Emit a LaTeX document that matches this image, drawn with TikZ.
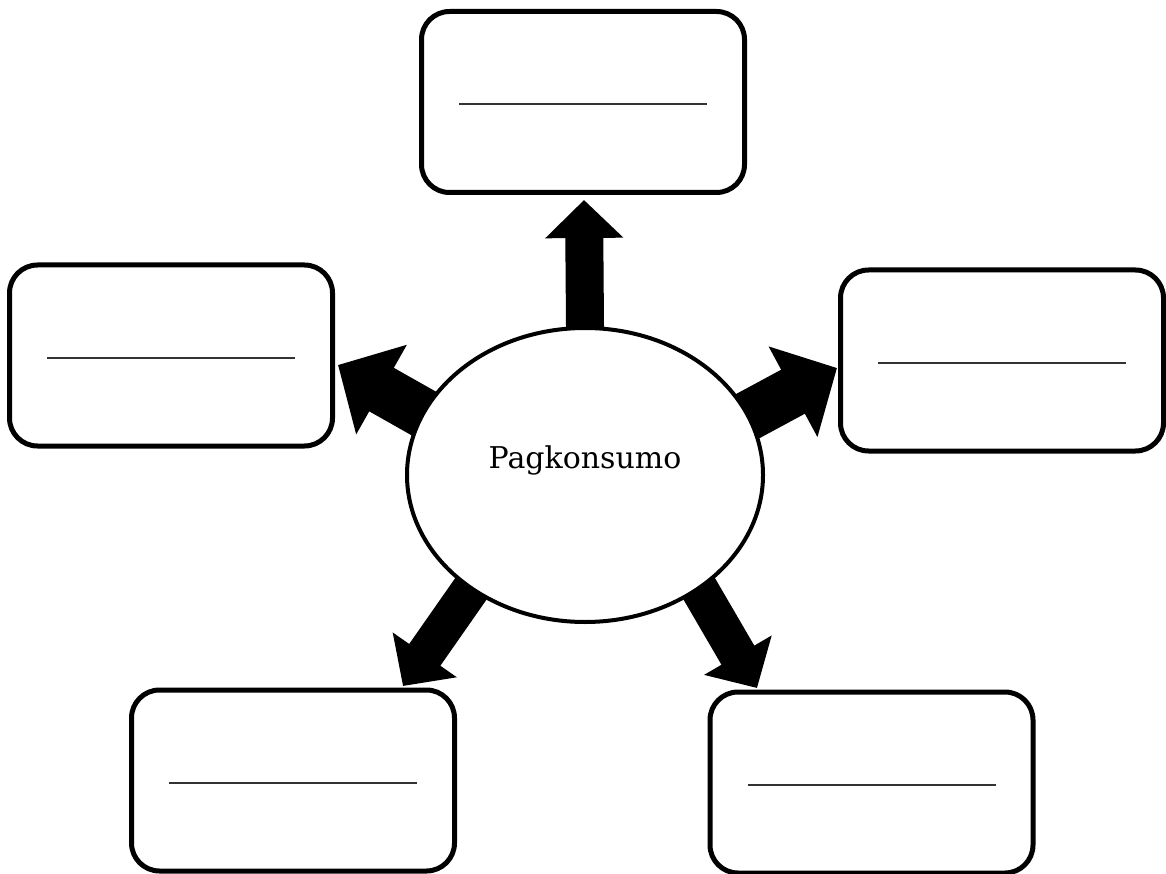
\documentclass[tikz,border=0pt]{standalone}
\usepackage{fontspec}
\setmainfont{DejaVu Serif}
\usetikzlibrary{arrows.meta, shapes.geometric, backgrounds}

\newcommand{\ligneblanche}{{\color{black!80}\rule[-3pt]{248pt}{1.5pt}}}

\begin{document}
\begin{tikzpicture}[x=1pt, y=-1pt,
  boite/.style={rectangle, rounded corners=28pt, draw=black, line width=5pt,
    minimum width=323pt, minimum height=181pt, inner sep=0pt,
    text height=0pt, text depth=0pt},
  centre/.style={ellipse, draw=black, line width=4pt, fill=white,
    minimum width=356pt, minimum height=294pt},
  fleche/.style={line width=#1, -{Triangle[length=0pt 1, width=0pt 2]}}]

\useasboundingbox (0,0) rectangle (1166,874);

% L'ellipse du centre
\node[centre] (P) at (585,475) {};
\node[font=\fontsize{30}{36}\selectfont, anchor=base] (Ptxt) at ([yshift=7pt]P.center) {Pagkonsumo};

% Les cases vides
\foreach \b/\x/\y in {1/583/102, 2/171/355.5, 3/1002/360.5, 4/293/780.5, 5/871.5/782.5}
\node[boite] (B\b) at (\x,\y) {\ligneblanche};

% Les pointes des flèches
\coordinate (F1) at (584,200);
\coordinate (F2) at (338,365);
\coordinate (F3) at (837,368);
\coordinate (F4) at (403,686);
\coordinate (F5) at (757,688);

% Les flèches (derrière l'ellipse)
\begin{scope}[on background layer]
\foreach \f/\a/\w in {1/90/38pt, 2/159/50pt, 3/20/50pt, 4/225/38pt, 5/315/38pt}
\draw[fleche=\w, shorten <=-8pt] (P.\a) -- (F\f);
\end{scope}

\end{tikzpicture}
\end{document}
